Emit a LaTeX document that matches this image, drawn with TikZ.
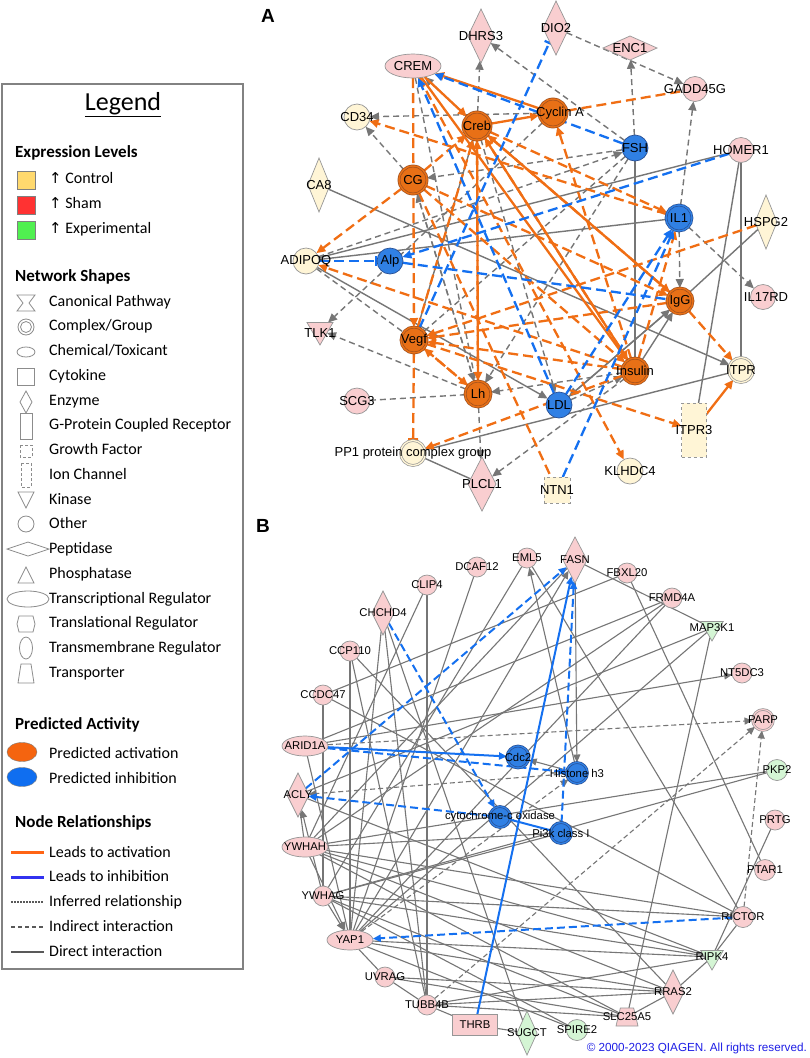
\documentclass[tikz,border=0pt]{standalone}
\usepackage{fontspec}
\setmainfont{Liberation Sans}
\newfontfamily\lgfont{Carlito}
\newfontfamily\symfont{DejaVu Sans}
\usetikzlibrary{shapes.geometric,arrows.meta}
\pgfdeclarelayer{bg}
\pgfdeclarelayer{edges}
\pgfsetlayers{bg,edges,main}
\definecolor{pinkf}{RGB}{249,206,208}
\definecolor{yelf}{RGB}{255,245,214}
\definecolor{grnf}{RGB}{212,245,212}
\definecolor{orf}{RGB}{232,112,22}
\definecolor{orb}{RGB}{160,80,30}
\definecolor{blf}{RGB}{48,128,228}
\definecolor{blb}{RGB}{40,80,150}
\definecolor{nbord}{RGB}{150,150,150}
\definecolor{eor}{RGB}{240,110,20}
\definecolor{ebl}{RGB}{20,112,240}
\definecolor{egr}{RGB}{118,118,118}
\definecolor{ctrlc}{RGB}{255,217,110}
\definecolor{shamc}{RGB}{255,50,50}
\definecolor{expc}{RGB}{80,240,80}
\definecolor{actc}{RGB}{245,100,15}
\definecolor{inhc}{RGB}{15,110,240}
\definecolor{lgor}{RGB}{255,100,20}
\definecolor{lgbl}{RGB}{50,50,240}
\definecolor{cpy}{RGB}{30,30,230}
\tikzset{
  gene/.style={draw=nbord, line width=0.7pt, inner sep=0pt, outer sep=0pt},
  circ/.style={circle, minimum size=#1}, circ/.default=25,
  pk/.style={gene, fill=pinkf}, yl/.style={gene, fill=yelf}, gr/.style={gene, fill=grnf},
  orn/.style={gene, circle, minimum size=#1, fill=orf, draw=orb, double=orf, double distance=1.4pt}, orn/.default=26,
  blud/.style={gene, circle, minimum size=#1, fill=blf, draw=blb, double=blf, double distance=1.3pt}, blud/.default=25,
  blus/.style={gene, circle, minimum size=26, fill=blf, draw=blb},
  yld/.style={gene, circle, minimum size=25, fill=yelf, double=yelf, double distance=1.3pt},
  pkd/.style={gene, circle, minimum size=21, fill=pinkf, double=pinkf, double distance=1.1pt},
  kin/.style={regular polygon, regular polygon sides=3, shape border rotate=180, minimum size=#1},
  transp/.style={trapezium, trapezium left angle=72, trapezium right angle=72, trapezium stretches=true, inner sep=1pt},
  la/.style={font=\fontsize{13}{14}\selectfont, inner sep=0pt},
  lb/.style={font=\fontsize{11.3}{12}\selectfont, inner sep=0pt},
  gA/.style={draw=egr, line width=1.4pt}, gAd/.style={gA, dash pattern=on 6pt off 4pt},
  oA/.style={draw=eor, line width=2.3pt}, oAd/.style={oA, dash pattern=on 10pt off 5pt},
  bA/.style={draw=ebl, line width=2.3pt}, bAd/.style={bA, dash pattern=on 10pt off 5pt},
  gB/.style={draw=egr, line width=1.1pt}, gBd/.style={gB, dash pattern=on 5pt off 3pt},
  bB/.style={draw=ebl, line width=2pt}, bBd/.style={bB, dash pattern=on 8pt off 4pt},
  tip/.style={-{Triangle[length=9pt,width=8pt]}},
  tipb/.style={-{Triangle[length=8pt,width=7pt]}},
  tbar/.style={-{Bar[width=10pt]}},
  lgt/.style={anchor=west, inner sep=0pt, text height=11pt, text depth=3pt, font=\lgfont\fontsize{16}{17}\selectfont},
  lgh/.style={lgt, font=\lgfont\bfseries\fontsize{17}{18}\selectfont},
  lgs/.style={draw={rgb,255:red,140;green,140;blue,140}, line width=0.8pt},
}
\begin{document}
\begin{tikzpicture}[x=1pt,y=-1pt]
\useasboundingbox (0,0) rectangle (809,1058);
\begin{pgfonlayer}{bg}
  \fill[white] (0,0) rectangle (809,1058);
\end{pgfonlayer}

% ---------------- legend
\draw[draw={rgb,255:red,130;green,130;blue,130}, line width=1.5pt] (2,84) rectangle (243,969);
\node[inner sep=0pt, font=\lgfont\fontsize{26}{28}\selectfont] at (123,105) {\underline{Legend}};
\node[lgh] at (15,153) {Expression Levels};
\foreach \c/\t [count=\i from 0] in {ctrlc/Control, shamc/Sham, expc/Experimental}{
  \draw[draw=gray, fill=\c, line width=0.8pt] (17,171+25*\i) rectangle (35,189+25*\i);
  \node[lgt] at (49,179+25*\i) {{\symfont\fontsize{15}{16}\selectfont ↑} \t};
}
\node[lgh] at (15,277) {Network Shapes};
\foreach \t [count=\i from 0] in {Canonical Pathway, Complex/Group, Chemical/Toxicant, Cytokine, Enzyme,
  G-Protein Coupled Receptor, Growth Factor, Ion Channel, Kinase, Other, Peptidase, Phosphatase,
  Transcriptional Regulator, Translational Regulator, Transmembrane Regulator, Transporter}
  \node[lgt] at (49,302+24.75*\i) {\t};
\draw[lgs] (17,295) -- (35,295) -- (29,303) -- (35,311) -- (17,311) -- (23,303) -- cycle;
\draw[lgs] (26,327) circle[radius=8] (26,327) circle[radius=5.5];
\draw[lgs] (26,352) ellipse[x radius=9, y radius=5];
\draw[lgs] (17.5,368.5) rectangle (34.5,385.5);
\draw[lgs] (26,391) -- (32,402) -- (26,413) -- (20,402) -- cycle;
\draw[lgs] (20,413) rectangle (32,439);
\draw[lgs, densely dashed] (20,445) rectangle (32,457);
\draw[lgs, densely dashed] (21,463) rectangle (31,487);
\draw[lgs] (18,492) -- (34,492) -- (26,508) -- cycle;
\draw[lgs] (26,524) circle[radius=8];
\draw[lgs] (7,549) -- (28,542) -- (49,549) -- (28,556) -- cycle;
\draw[lgs] (26,567) -- (34,583) -- (18,583) -- cycle;
\draw[lgs] (28,599) ellipse[x radius=21, y radius=8];
\draw[lgs] (19,616) -- (33,616) -- (35,624) -- (33,632) -- (19,632) -- (17,624) -- cycle;
\draw[lgs] (26,648) ellipse[x radius=6.5, y radius=11];
\draw[lgs] (21,664) -- (31,664) -- (34,683) -- (18,683) -- cycle;
\node[lgh] at (15,725) {Predicted Activity};
\draw[draw=gray, fill=actc] (22,752) ellipse[x radius=15, y radius=9.5];
\draw[draw=gray, fill=inhc] (22,777) ellipse[x radius=15, y radius=9.5];
\node[lgt] at (49,754) {Predicted activation};
\node[lgt] at (49,779) {Predicted inhibition};
\node[lgh] at (15,823) {Node Relationships};
\draw[lgor, line width=3pt] (11,852) -- (44,852);
\draw[lgbl, line width=3pt] (11,877) -- (44,877);
\draw[black!65, line width=2.5pt, dash pattern=on 1.5pt off 1.5pt] (11,902) -- (44,902);
\draw[black!65, line width=2.5pt, dash pattern=on 4pt off 3pt] (11,927) -- (44,927);
\draw[black!65, line width=2.5pt] (11,952) -- (44,952);
\foreach \t [count=\i from 0] in {Leads to activation, Leads to inhibition, Inferred relationship,
  Indirect interaction, Direct interaction}
  \node[lgt] at (49,853+24.75*\i) {\t};

% ---------------- panel A
\node[font=\bfseries\fontsize{19}{20}\selectfont, inner sep=0pt] at (268,16) {A};
\node[pk, ellipse, minimum width=56, minimum height=24, label={[la]center:CREM}] (CREM) at (413,66) {};
\node[pk, diamond, minimum width=26, minimum height=54, label={[la]center:DHRS3}] (DHRS3) at (481,36) {};
\node[pk, diamond, minimum width=26, minimum height=54, label={[la]center:DIO2}] (DIO2) at (556,28) {};
\node[pk, diamond, minimum width=54, minimum height=24, label={[la]center:ENC1}] (ENC1) at (630,48) {};
\node[pk, circ, label={[la]center:GADD45G}] (GADD45G) at (695,89) {};
\node[yl, circ=26, label={[la]center:CD34}] (CD34) at (357,117) {};
\node[orn=28, label={[la]center:Creb}] (Creb) at (477,126) {};
\node[orn=28, label={[la,xshift=7pt]center:Cyclin A}] (CyclinA) at (553,113) {};
\node[blus, label={[la]center:FSH}] (FSH) at (635,148) {};
\node[pk, circ, label={[la]center:HOMER1}] (HOMER1) at (741,150) {};
\node[yl, diamond, minimum width=22, minimum height=54, label={[la]center:CA8}] (CA8) at (319,185) {};
\node[orn=28, label={[la]center:CG}] (CG) at (413,180) {};
\node[blud=26, label={[la]center:IL1}] (IL1) at (679,218) {};
\node[yl, diamond, minimum width=22, minimum height=54, label={[la]center:HSPG2}] (HSPG2) at (766,222) {};
\node[yl, circ=26, label={[la]center:ADIPOQ}] (ADIPOQ) at (306,261) {};
\node[blus, label={[la]center:Alp}] (Alp) at (390,261) {};
\node[pk, circ, label={[la,xshift=3pt]center:IL17RD}] (IL17RD) at (763,297) {};
\node[orn, label={[la]center:IgG}] (IgG) at (680,301) {};
\node[pk, kin=30, label={[la,yshift=-3pt]center:TLK1}] (TLK1) at (320,330) {};
\node[orn, label={[la]center:Vegf}] (Vegf) at (414,340) {};
\node[pk, circ=26, label={[la]center:SCG3}] (SCG3) at (357,401) {};
\node[orn, label={[la]center:Lh}] (Lh) at (478,394) {};
\node[blus, label={[la]center:LDL}] (LDL) at (559,405) {};
\node[orn, label={[la]center:Insulin}] (Insulin) at (635,371) {};
\node[yld, label={[la]center:ITPR}] (ITPR) at (741,370) {};
\node[yl, dashed, rectangle, minimum width=25, minimum height=54, label={[la]center:ITPR3}] (ITPR3) at (694,430) {};
\node[yld, label={[la]center:PP1 protein complex group}] (PP1) at (413,453) {};
\node[pk, diamond, minimum width=28, minimum height=54, label={[la]center:PLCL1}] (PLCL1) at (482,484) {};
\node[yl, dashed, rectangle, minimum size=26, label={[la]center:NTN1}] (NTN1) at (557,490) {};
\node[yl, circ=26, label={[la]center:KLHDC4}] (KLHDC4) at (630,471) {};

\begin{pgfonlayer}{edges}
  % indirect, grey
  \foreach \a/\b in {FSH/DHRS3, Creb/DHRS3, DIO2/GADD45G, FSH/ENC1, IL1/GADD45G, CyclinA/CD34,
    CG/CD34, FSH/CG, ADIPOQ/FSH, CyclinA/TLK1, Lh/TLK1, Lh/PLCL1, Insulin/PLCL1, Insulin/Lh,
    CG/Lh, FSH/Lh, IL1/IgG, IL1/IL17RD, LDL/Insulin, Lh/CG, Creb/LDL}
    \draw[gAd, tip] (\a) -- (\b);
  \foreach \a/\b in {SCG3/Lh, ADIPOQ/Vegf, CREM/Lh, FSH/Vegf}
    \draw[gAd] (\a) -- (\b);
  % direct, grey
  \foreach \a/\b in {CA8/ITPR, ADIPOQ/LDL, IgG/LDL, Insulin/IgG, LDL/IgG, Vegf/Creb, Creb/CREM}
    \draw[gA, tip] (\a) -- (\b);
  \foreach \a/\b in {ADIPOQ/HOMER1, ADIPOQ/IL1, FSH/Insulin, PP1/PLCL1, ITPR/PP1, HOMER1/ITPR3,
    HOMER1/ITPR, HSPG2/IgG}
    \draw[gA] (\a) -- (\b);
  % activation, orange
  \foreach \a/\b in {CG/ADIPOQ, CG/Creb, IL1/CD34, CREM/Vegf, Vegf/Lh, Lh/Vegf, Vegf/Creb, Creb/Lh,
    Insulin/Vegf, IgG/Vegf, HSPG2/Vegf, IgG/Creb, Insulin/Creb, Insulin/ADIPOQ, Insulin/CyclinA,
    Creb/IL1, Insulin/IL1, IgG/ITPR, Vegf/ITPR3, CREM/KLHDC4, Insulin/PP1, Lh/Creb, CG/Insulin, CG/IgG}
    \draw[oAd, tip] (\a) -- (\b);
  \draw[oAd] (CyclinA) -- (GADD45G);
  \draw[oAd] (CG) -- (NTN1);
  \draw[oAd, tbar] (Vegf) -- (PP1);
  \foreach \a/\b in {Creb/CyclinA, CyclinA/CREM, CREM/Creb, Creb/Insulin, CREM/Insulin, Creb/IgG, ITPR3/ITPR}
    \draw[oA, tip] (\a) -- (\b);
  % inhibition, blue
  \foreach \a/\b in {FSH/CREM, LDL/CREM, HOMER1/Alp, NTN1/IL1, LDL/IL1}
    \draw[bAd, tip] (\a) -- (\b);
  \draw[bAd, tbar] (ADIPOQ) -- (Alp);
  \draw[bAd, tbar] (Vegf) -- (DIO2);
  \draw[bAd] (Alp) -- (IgG);
\end{pgfonlayer}

% ---------------- panel B
\node[font=\bfseries\fontsize{19}{20}\selectfont, inner sep=0pt] at (263,526) {B};
\node[pk, circ=20, label={[lb]center:EML5}] (EML5) at (527,558) {};
\node[pk, circ=20, label={[lb]center:DCAF12}] (DCAF12) at (477,567) {};
\node[pk, circ=20, label={[lb]center:CLIP4}] (CLIP4) at (427,585) {};
\node[pk, diamond, minimum width=22, minimum height=44, label={[lb]center:CHCHD4}] (CHCHD4) at (383,613) {};
\node[pk, diamond, minimum width=24, minimum height=46, label={[lb]center:FASN}] (FASN) at (575,560) {};
\node[pk, circ=20, label={[lb]center:FBXL20}] (FBXL20) at (627,573) {};
\node[pk, circ=20, label={[lb]center:FRMD4A}] (FRMD4A) at (672,598) {};
\node[gr, kin=26, label={[lb]center:MAP3K1}] (MAP3K1) at (712,628) {};
\node[pk, circ=20, label={[lb]center:CCP110}] (CCP110) at (350,651) {};
\node[pk, circ=20, label={[lb]center:NT5DC3}] (NT5DC3) at (742,673) {};
\node[pk, circ=20, label={[lb]center:CCDC47}] (CCDC47) at (323,695) {};
\node[pkd, label={[lb]center:PARP}] (PARP) at (763,720) {};
\node[pk, ellipse, minimum width=46, minimum height=20, label={[lb]center:ARID1A}] (ARID1A) at (305,746) {};
\node[blud=22, label={[lb]center:Cdc2}] (Cdc2) at (518,757) {};
\node[blud=21, label={[lb]center:Histone h3}] (Histone) at (577,773) {};
\node[gr, circ=21, label={[lb]center:PKP2}] (PKP2) at (777,770) {};
\node[pk, diamond, minimum width=22, minimum height=44, label={[lb]center:ACLY}] (ACLY) at (298,795) {};
\node[blud=21, label={[lb]center:cytochrome-c oxidase}] (cyto) at (500,817) {};
\node[blud=21, label={[lb]center:Pi3k class I}] (Pi3k) at (561,833) {};
\node[pk, circ=20, label={[lb]center:PRTG}] (PRTG) at (775,820) {};
\node[pk, ellipse, minimum width=46, minimum height=20, label={[lb]center:YWHAH}] (YWHAH) at (305,847) {};
\node[pk, circ=21, label={[lb]center:PTAR1}] (PTAR1) at (765,870) {};
\node[pk, circ=20, label={[lb]center:YWHAG}] (YWHAG) at (323,896) {};
\node[pk, circ=21, label={[lb]center:RICTOR}] (RICTOR) at (743,917) {};
\node[pk, ellipse, minimum width=46, minimum height=20, label={[lb]center:YAP1}] (YAP1) at (350,940) {};
\node[gr, kin=26, label={[lb]center:RIPK4}] (RIPK4) at (712,957) {};
\node[pk, circ=20, label={[lb]center:UVRAG}] (UVRAG) at (385,977) {};
\node[pk, diamond, minimum width=22, minimum height=44, label={[lb]center:RRAS2}] (RRAS2) at (673,992) {};
\node[pk, circ=20, label={[lb]center:TUBB4B}] (TUBB4B) at (427,1005) {};
\node[pk, transp, minimum width=22, minimum height=18, label={[lb]center:SLC25A5}] (SLC25A5) at (627,1017) {};
\node[pk, rectangle, minimum width=45, minimum height=21, label={[lb]center:THRB}] (THRB) at (475,1025) {};
\node[gr, diamond, minimum width=20, minimum height=44, label={[lb]center:SUGCT}] (SUGCT) at (527,1033) {};
\node[gr, circ=21, label={[lb]center:SPIRE2}] (SPIRE2) at (577,1030) {};

\begin{pgfonlayer}{edges}
  \foreach \a/\b in {DCAF12/YAP1, CLIP4/TUBB4B, CHCHD4/TUBB4B, CHCHD4/SUGCT, CCP110/YAP1,
    CCP110/TUBB4B, CCDC47/YWHAG, CCDC47/FBXL20, CCDC47/RICTOR, ARID1A/YAP1, FBXL20/PTAR1,
    FASN/MAP3K1, MAP3K1/SLC25A5, MAP3K1/YAP1, FRMD4A/YWHAH, FRMD4A/YAP1, EML5/RICTOR,
    PRTG/RIPK4, RICTOR/RIPK4, RIPK4/RRAS2, RRAS2/SLC25A5, THRB/SUGCT, TUBB4B/THRB, YAP1/UVRAG,
    UVRAG/TUBB4B, YWHAH/PKP2, YWHAH/RICTOR, YWHAH/RIPK4, YWHAH/Pi3k, YWHAH/FASN, YWHAH/RRAS2,
    YWHAH/CLIP4, YWHAG/RICTOR, YWHAG/RIPK4, YWHAG/SLC25A5, YWHAG/PKP2, YWHAG/EML5, YAP1/RIPK4,
    YAP1/RRAS2, YAP1/SPIRE2, YAP1/CHCHD4, TUBB4B/RIPK4, TUBB4B/RRAS2, TUBB4B/SLC25A5,
    UVRAG/SLC25A5, UVRAG/RRAS2, ACLY/YWHAH, ACLY/MAP3K1, ACLY/RIPK4, YWHAG/SPIRE2, YWHAG/Pi3k,
    CCP110/RRAS2, ARID1A/FRMD4A, YWHAH/SLC25A5}
    \draw[gB] (\a) -- (\b);
  \foreach \a/\b in {Histone/Cdc2, FASN/Histone, Histone/EML5, YAP1/FASN, ARID1A/NT5DC3,
    YWHAH/YAP1, YWHAG/YAP1, YWHAG/ACLY}
    \draw[gB, tipb] (\a) -- (\b);
  \foreach \a/\b in {ARID1A/PARP, TUBB4B/PARP, RICTOR/PARP, Histone/ACLY, YAP1/Histone}
    \draw[gBd, tipb] (\a) -- (\b);
  \draw[bB, tipb] (ARID1A) -- (Cdc2);
  \draw[bB, tipb] (THRB) -- (FASN);
  \draw[bB] (cyto) -- (Pi3k);
  \foreach \a/\b in {ARID1A/Histone, CHCHD4/cyto, cyto/ACLY, ACLY/FASN, Pi3k/FASN, RICTOR/YAP1}
    \draw[bBd, tipb] (\a) -- (\b);
\end{pgfonlayer}

\node[anchor=east, inner sep=0pt, text=cpy, font=\fontsize{11.7}{12}\selectfont] at (807,1048) {© 2000-2023 QIAGEN. All rights reserved.};
\end{tikzpicture}
\end{document}
